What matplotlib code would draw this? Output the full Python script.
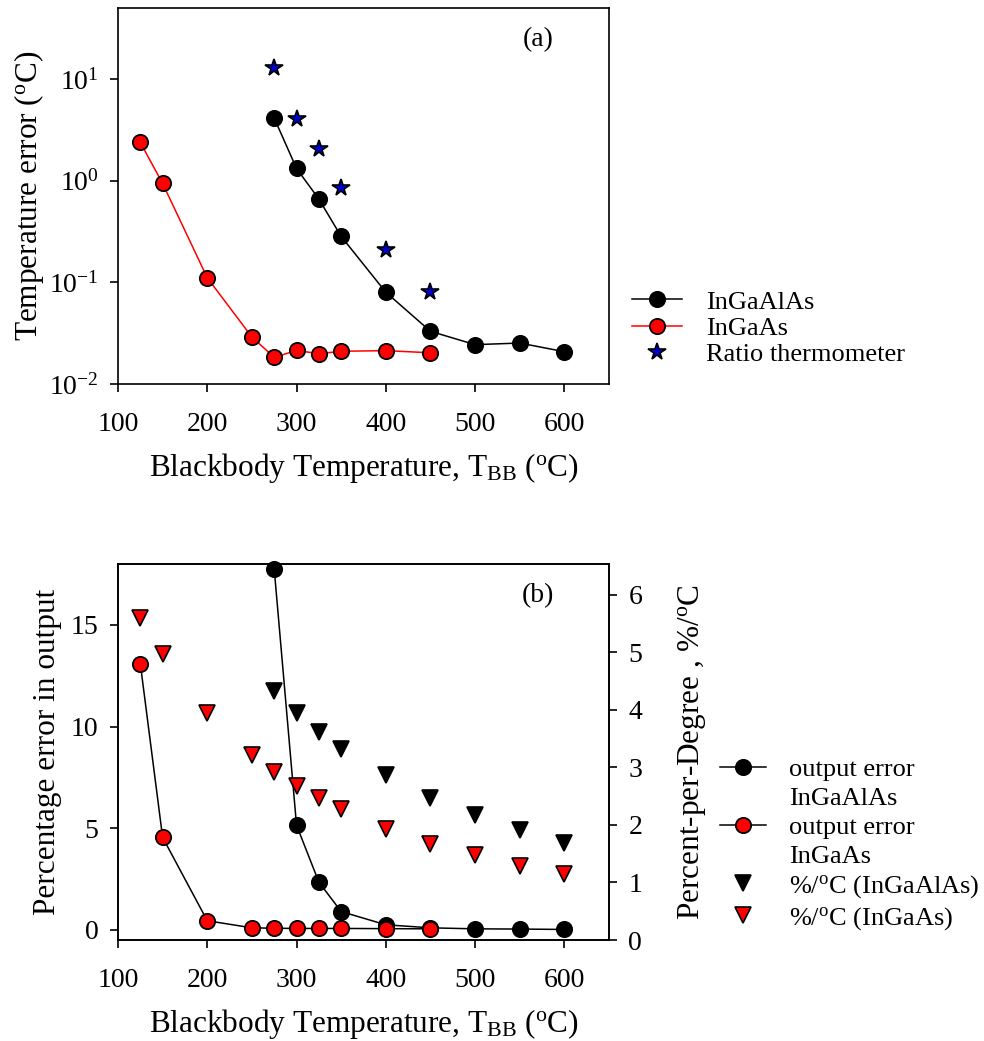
import matplotlib
matplotlib.use("Agg")
import matplotlib.pyplot as plt
from matplotlib.lines import Line2D
import numpy as np

plt.rcParams['font.family'] = ['Liberation Serif', 'DejaVu Serif']
plt.rcParams['mathtext.fontset'] = 'custom'
plt.rcParams['mathtext.rm'] = 'Liberation Serif'
plt.rcParams['mathtext.it'] = 'Liberation Serif:italic'

# ---------------- data ----------------
# Panel (a): temperature error (degC)
t_ingaalas = [275, 300, 325, 350, 400, 450, 500, 550, 600]
err_ingaalas = [4.13, 1.32, 0.66, 0.283, 0.080, 0.033, 0.0244, 0.0253, 0.0208]

t_ingaas = [125, 150, 200, 250, 275, 300, 325, 350, 400, 450]
err_ingaas = [2.38, 0.94, 0.111, 0.029, 0.0183, 0.0214, 0.0199, 0.0210, 0.0213, 0.0203]

t_ratio = [275, 300, 325, 350, 400, 450]
err_ratio = [12.8, 4.04, 2.05, 0.85, 0.21, 0.080]

# Panel (b): percentage error in output
out_ingaalas = [17.75, 5.15, 2.35, 0.9, 0.25, 0.1, 0.05, 0.04, 0.02]
out_ingaas = [13.1, 4.55, 0.45, 0.1, 0.08, 0.07, 0.07, 0.07, 0.06, 0.05]

# Panel (b): percent per degree
t_ppd_ingaalas = [275, 300, 325, 350, 400, 450, 500, 550, 600]
ppd_ingaalas = [4.32, 3.94, 3.62, 3.31, 2.86, 2.47, 2.17, 1.91, 1.69]
t_ppd_ingaas = [125, 150, 200, 250, 275, 300, 325, 350, 400, 450, 500, 550, 600]
ppd_ingaas = [5.59, 4.96, 3.94, 3.22, 2.92, 2.68, 2.47, 2.27, 1.93, 1.67, 1.47, 1.28, 1.14]

xticks = [100, 200, 300, 400, 500, 600]

# ---------------- figure ----------------
fig = plt.figure(figsize=(9.84, 10.41), dpi=100)
TICK = 20
LAB = 22.5
LEG = 19

def style(ax):
    for s in ax.spines.values():
        s.set_linewidth(1.2)
    ax.tick_params(direction='out', length=6, width=1.2, labelsize=TICK, pad=8)
    ax.tick_params(axis='x', pad=14)

# ---- panel (a)
ax1 = fig.add_axes([0.1199, 0.6311, 0.499, 0.3612])
ax1.set_yscale('log')
ax1.plot(t_ingaalas, err_ingaalas, '-o', color='black', mfc='black', mec='black',
         ms=11, lw=1.1, mew=1.3, label='InGaAlAs', zorder=3)
ax1.plot(t_ingaas, err_ingaas, '-o', color='red', mfc='red', mec='black',
         ms=11, lw=1.1, mew=1.3, label='InGaAs', zorder=3)
ax1.plot(t_ratio, err_ratio, linestyle='none', marker='*', mfc='#0000cc', mec='black',
         ms=13, mew=1.2, label='Ratio thermometer', zorder=4)
ax1.set_xlim(100, 650)
ax1.set_ylim(0.01, 50)
ax1.set_xticks(xticks)
ax1.yaxis.set_minor_locator(matplotlib.ticker.NullLocator())
style(ax1)
ax1.tick_params(top=False, right=False)
ax1.set_xlabel(r'Blackbody Temperature, T$_{\rm BB}$ ($^{\rm o}$C)', fontsize=LAB, labelpad=10)
ax1.set_ylabel(r'Temperature error ($^{\rm o}$C)', fontsize=LAB, labelpad=2)
ax1.text(0.855, 0.915, '(a)', transform=ax1.transAxes, fontsize=TICK, ha='center', va='center')

h1, l1 = ax1.get_legend_handles_labels()
fig.legend(h1, l1, loc='center left', bbox_to_anchor=(0.642, 1 - 328 / 1041),
           frameon=False, fontsize=LEG, borderpad=0, borderaxespad=0,
           handlelength=1.9, handletextpad=0.9, labelspacing=0.1)

# ---- panel (b)
ax2 = fig.add_axes([0.1199, 0.0970, 0.499, 0.3612])
ax3 = ax2.twinx()
l_a, = ax2.plot(t_ingaalas, out_ingaalas, '-o', color='black', mfc='black', mec='black',
                ms=11, lw=1.1, mew=1.3, zorder=3, clip_on=False)
l_b, = ax2.plot(t_ingaas, out_ingaas, '-o', color='black', mfc='red', mec='black',
                ms=11, lw=1.1, mew=1.3, zorder=3, clip_on=False)
tri_a, = ax3.plot(t_ppd_ingaalas, ppd_ingaalas, linestyle='none', marker='v',
                  mfc='black', mec='black', ms=12, mew=1.2)
tri_b, = ax3.plot(t_ppd_ingaas, ppd_ingaas, linestyle='none', marker='v',
                  mfc='red', mec='black', ms=12, mew=1.2)
ax2.set_xlim(100, 650)
ax2.set_ylim(-0.5, 18)
ax3.set_ylim(0, 6.53)
ax2.set_xticks(xticks)
ax2.set_yticks([0, 5, 10, 15])
ax3.set_yticks([0, 1, 2, 3, 4, 5, 6])
style(ax2)
style(ax3)
ax2.tick_params(top=False, right=False)
ax3.tick_params(left=False)
ax2.set_xlabel(r'Blackbody Temperature, T$_{\rm BB}$ ($^{\rm o}$C)', fontsize=LAB, labelpad=10)
ax2.set_ylabel('Percentage error in output', fontsize=LAB, labelpad=6)
ax3.set_ylabel(r'Percent-per-Degree , %/$^{\rm o}$C', fontsize=LAB, labelpad=24)
ax2.text(0.855, 0.915, '(b)', transform=ax2.transAxes, fontsize=TICK, ha='center', va='center')

blank = Line2D([], [], linestyle='none', marker='none')
fig.legend([l_a, blank, l_b, blank, tri_a, tri_b],
           ['output error', 'InGaAlAs', 'output error', 'InGaAs',
            r'%/$^{\rm o}$C (InGaAlAs)', r'%/$^{\rm o}$C (InGaAs)'],
           loc='center left', bbox_to_anchor=(0.732, 1 - 845 / 1041),
           frameon=False, fontsize=LEG, borderpad=0, borderaxespad=0,
           handlelength=1.75, handletextpad=0.85, labelspacing=0.2)

fig.savefig('out.png', dpi=100)
